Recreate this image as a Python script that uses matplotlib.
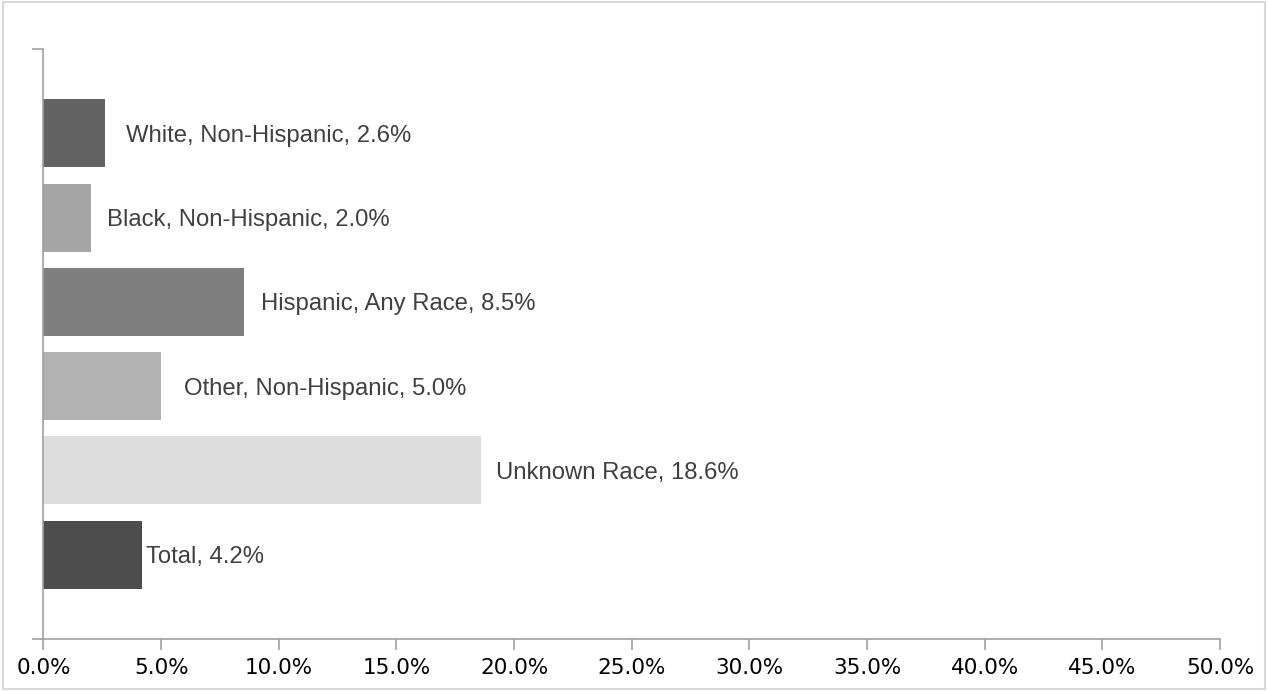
import matplotlib.pyplot as plt
from matplotlib.patches import Rectangle
from matplotlib.ticker import PercentFormatter
import matplotlib.transforms as mtransforms

# rate by race / ethnicity (percent)
groups = ["White, Non-Hispanic", "Black, Non-Hispanic", "Hispanic, Any Race",
          "Other, Non-Hispanic", "Unknown Race", "Total"]
rates = [2.6, 2.0, 8.5, 5.0, 18.6, 4.2]
colors = ["#636363", "#a5a5a5", "#7f7f7f", "#b2b2b2", "#dcdcdc", "#4d4d4d"]
label_gap = [21, 16, 17, 23, 15, 4]  # px between bar end and its label

fig = plt.figure(figsize=(12.68, 6.91), dpi=100)
ax = fig.add_axes([0.0343, 0.0753, 0.9279, 0.8538])

n = len(groups)
ypos = [n - i for i in range(n)]
ax.barh(ypos, rates, height=0.807, color=colors)

for y, r, g, gap in zip(ypos, rates, groups, label_gap):
    tr = ax.transData + mtransforms.ScaledTranslation(gap / 100, 0, fig.dpi_scale_trans)
    ax.text(r, y, f"{g}, {r:.1f}%", transform=tr, va="center_baseline", ha="left",
            fontsize=17.2, color="#404040", family="Liberation Sans")

ax.set_xlim(0, 50)
ax.set_ylim(0, n + 1)
ax.set_xticks(range(0, 51, 5))
ax.xaxis.set_major_formatter(PercentFormatter(decimals=1))
ax.set_yticks([0, n + 1])
ax.set_yticklabels([])

for s in ["top", "right"]:
    ax.spines[s].set_visible(False)
for s in ["left", "bottom"]:
    ax.spines[s].set_color("#a0a0a0")
    ax.spines[s].set_linewidth(1.2)
ax.tick_params(axis="both", length=8, width=1.2, color="#a0a0a0")
ax.tick_params(axis="x", labelsize=15.5, labelcolor="black", pad=6)

# light frame around the whole chart
fig.patches.append(Rectangle((0.002, 0.003), 0.996, 0.994, transform=fig.transFigure,
                             fill=False, edgecolor="#d9d9d9", linewidth=1.5))

fig.savefig("out.png", dpi=100)
